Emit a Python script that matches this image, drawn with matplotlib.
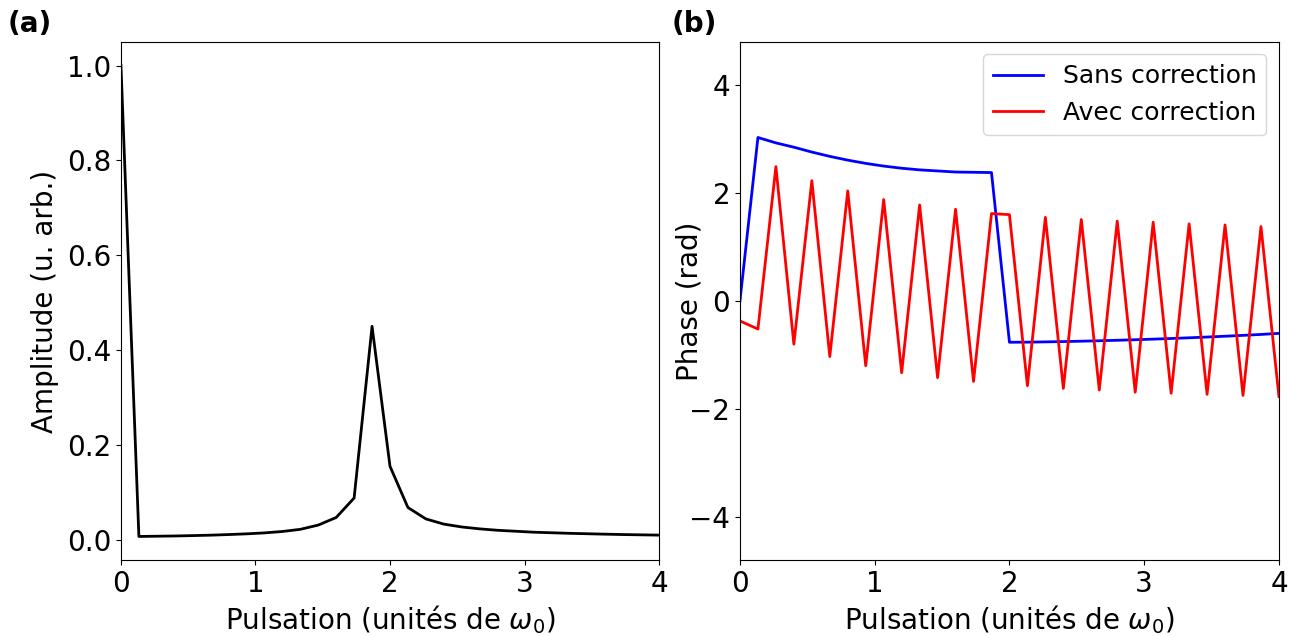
import numpy as np
import matplotlib
matplotlib.use("Agg")
import matplotlib.pyplot as plt

plt.rcParams["font.size"] = 20

# pulsation grid (units of omega_0), 31 samples from 0 to 4
pulsation = np.linspace(0, 4, 31)

amplitude = [1.0, 0.007, 0.0075, 0.008, 0.0088, 0.0097, 0.011, 0.0125, 0.0145,
             0.0175, 0.022, 0.031, 0.047, 0.088, 0.45, 0.155, 0.068, 0.044,
             0.033, 0.027, 0.023, 0.020, 0.018, 0.016, 0.0148, 0.0136, 0.0127,
             0.0118, 0.011, 0.0104, 0.0098]

phase_sans = [0.0, 3.03, 2.93, 2.85, 2.76, 2.68, 2.61, 2.55, 2.50, 2.46, 2.43,
              2.41, 2.39, 2.385, 2.38, -0.765, -0.763, -0.758, -0.752, -0.745,
              -0.737, -0.728, -0.718, -0.707, -0.695, -0.682, -0.668, -0.653,
              -0.637, -0.62, -0.60]

phase_avec = [-0.37, -0.52, 2.49, -0.80, 2.23, -1.03, 2.04, -1.20, 1.88, -1.33,
              1.78, -1.42, 1.70, -1.49, 1.62, 1.60, -1.57, 1.55, -1.62, 1.51,
              -1.65, 1.48, -1.69, 1.46, -1.71, 1.43, -1.73, 1.41, -1.75, 1.38,
              -1.77]

fig = plt.figure(figsize=(12.95, 6.36), dpi=100)
ax1 = fig.add_axes([0.0934, 0.1195, 0.4155, 0.8145])
ax2 = fig.add_axes([0.5714, 0.1195, 0.4162, 0.8145])

ax1.plot(pulsation, amplitude, color="black", lw=2)
ax1.set_xlim(0, 4)
ax1.set_xlabel(r"Pulsation (unités de $\omega_0$)")
ax1.set_ylabel("Amplitude (u. arb.)", labelpad=6)

ax2.plot(pulsation, phase_sans, color="blue", lw=2, label="Sans correction")
ax2.plot(pulsation, phase_avec, color="red", lw=2, label="Avec correction")
ax2.set_xlim(0, 4)
ax2.set_ylim(-4.8, 4.8)
ax2.set_yticks([-4, -2, 0, 2, 4])
ax2.set_xlabel(r"Pulsation (unités de $\omega_0$)")
ax2.set_ylabel("Phase (rad)", labelpad=-10)
ax2.legend(loc="upper right", fontsize=18)

fig.text(0.006, 0.985, "(a)", fontweight="bold", va="top")
fig.text(0.519, 0.985, "(b)", fontweight="bold", va="top")

fig.savefig("out.png", dpi=100)
